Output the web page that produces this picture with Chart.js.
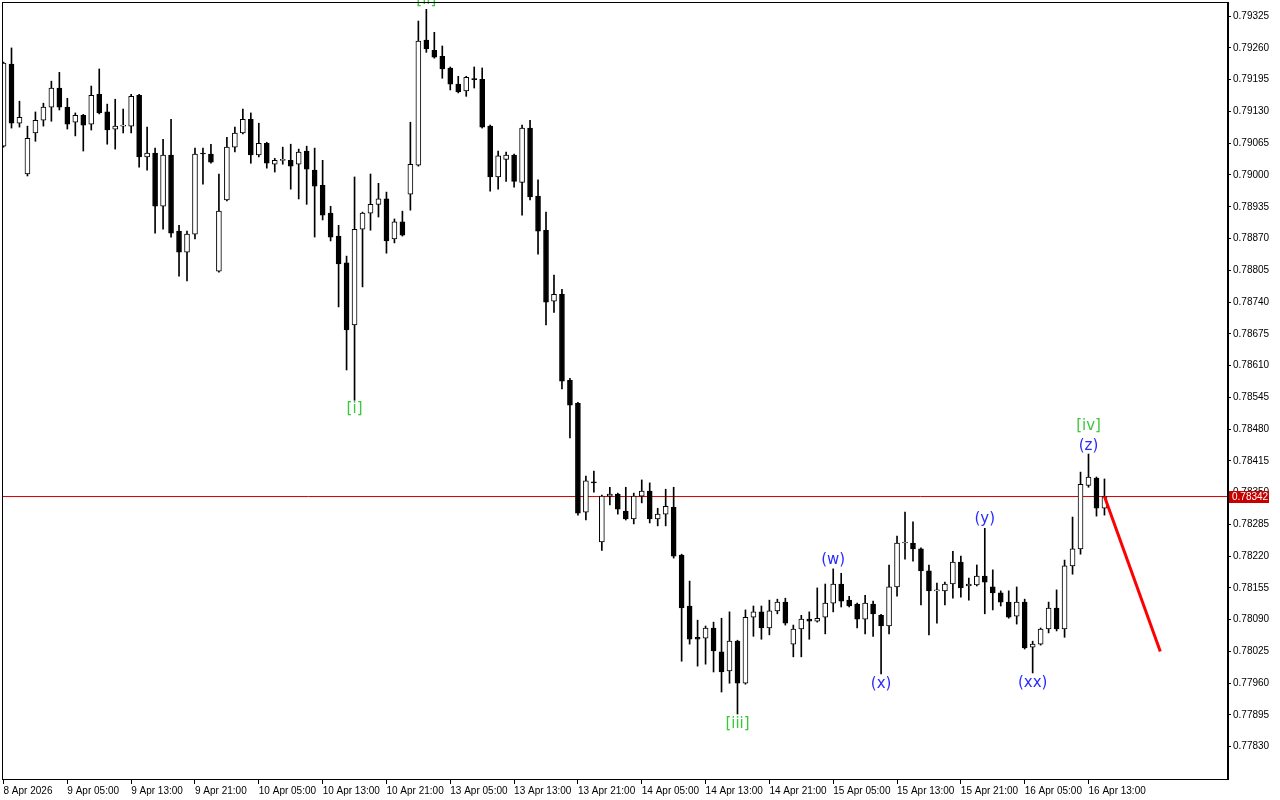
<!DOCTYPE html>
<html>
<head>
<meta charset="utf-8">
<script src="https://cdn.jsdelivr.net/npm/chart.js@4.4.1/dist/chart.umd.min.js"></script>
<style>
  html, body { margin: 0; padding: 0; background: #fff; }
  #wrap { width: 1280px; height: 800px; position: relative; }
</style>
</head>
<body>
<div id="wrap"><canvas id="c"></canvas></div>
<script>
// hourly candles, index 0 = 8 Apr 2026 21:00
var open = [0.79059,0.79227,0.79106,0.79002,0.79086,0.79112,0.79139,0.79178,0.79139,0.79108,
  0.79122,0.79104,0.79165,0.79129,0.79094,0.79100,0.79100,0.79163,0.79037,0.79045,
  0.78936,0.79041,0.78885,0.78842,0.78879,0.79045,0.79043,0.78803,0.78949,0.79057,
  0.79086,0.79114,0.79041,0.79065,0.79022,0.79030,0.79030,0.79022,0.79049,0.79010,
  0.78979,0.78922,0.78875,0.78820,0.78693,0.78889,0.78922,0.78940,0.78951,0.78869,
  0.78904,0.78961,0.79020,0.79276,0.79255,0.79243,0.79219,0.79186,0.79172,0.79196,
  0.79196,0.79100,0.78996,0.79032,0.79041,0.78985,0.79096,0.78957,0.78887,0.78742,
  0.78756,0.78580,0.78533,0.78310,0.78371,0.78249,0.78343,0.78347,0.78312,0.78296,
  0.78343,0.78353,0.78296,0.78306,0.78320,0.78222,0.78118,0.78054,0.78052,0.78073,
  0.78024,0.77985,0.78046,0.77960,0.78095,0.78106,0.78073,0.78108,0.78126,0.78040,
  0.78071,0.78091,0.78087,0.78095,0.78124,0.78163,0.78130,0.78122,0.78091,0.78122,
  0.78099,0.78077,0.78157,0.78247,0.78247,0.78235,0.78190,0.78149,0.78149,0.78163,
  0.78208,0.78159,0.78161,0.78179,0.78157,0.78145,0.78126,0.78097,0.78126,0.78034,
  0.78040,0.78071,0.78114,0.78071,0.78200,0.78235,0.78365,0.78380,0.78318];
var high = [0.79231,0.79260,0.79151,0.79100,0.79129,0.79147,0.79192,0.79210,0.79157,0.79127,
  0.79124,0.79182,0.79217,0.79145,0.79155,0.79135,0.79165,0.79165,0.79098,0.79055,
  0.79073,0.79114,0.78897,0.78885,0.79055,0.79055,0.79063,0.79002,0.79077,0.79098,
  0.79135,0.79127,0.79106,0.79067,0.79034,0.79057,0.79063,0.79053,0.79059,0.79055,
  0.79030,0.78936,0.78897,0.78834,0.78996,0.78924,0.79002,0.78983,0.78965,0.78910,
  0.78926,0.79108,0.79315,0.79339,0.79292,0.79264,0.79221,0.79202,0.79202,0.79221,
  0.79219,0.79102,0.79049,0.79047,0.79043,0.79102,0.79112,0.78990,0.78924,0.78795,
  0.78766,0.78584,0.78535,0.78384,0.78394,0.78345,0.78361,0.78349,0.78361,0.78349,
  0.78376,0.78370,0.78318,0.78357,0.78361,0.78224,0.78169,0.78089,0.78077,0.78085,
  0.78093,0.78106,0.78048,0.78110,0.78118,0.78118,0.78130,0.78132,0.78134,0.78079,
  0.78099,0.78106,0.78155,0.78163,0.78194,0.78185,0.78138,0.78124,0.78140,0.78128,
  0.78101,0.78202,0.78261,0.78310,0.78290,0.78237,0.78202,0.78165,0.78167,0.78230,
  0.78220,0.78175,0.78202,0.78277,0.78192,0.78149,0.78149,0.78157,0.78132,0.78046,
  0.78073,0.78126,0.78151,0.78212,0.78300,0.78392,0.78429,0.78382,0.78378];
var low = [0.79057,0.79096,0.79098,0.78998,0.79069,0.79100,0.79110,0.79133,0.79094,0.79080,
  0.79049,0.79092,0.79125,0.79063,0.79053,0.79086,0.79086,0.79016,0.79010,0.78881,
  0.78889,0.78873,0.78793,0.78783,0.78869,0.78981,0.79024,0.78801,0.78947,0.79047,
  0.79084,0.79024,0.79037,0.79014,0.79006,0.79022,0.78971,0.78951,0.78940,0.78873,
  0.78908,0.78865,0.78730,0.78601,0.78539,0.78771,0.78887,0.78914,0.78840,0.78861,
  0.78875,0.78928,0.79018,0.79251,0.79239,0.79198,0.79174,0.79168,0.79161,0.79178,
  0.79096,0.78967,0.78971,0.78987,0.78975,0.78918,0.78949,0.78838,0.78693,0.78719,
  0.78562,0.78462,0.78304,0.78294,0.78351,0.78232,0.78325,0.78306,0.78294,0.78286,
  0.78329,0.78288,0.78282,0.78282,0.78216,0.78005,0.78040,0.77995,0.77999,0.77983,
  0.77942,0.77960,0.77897,0.77958,0.78056,0.78050,0.78059,0.78102,0.78079,0.78014,
  0.78014,0.78050,0.78085,0.78061,0.78106,0.78116,0.78116,0.78073,0.78061,0.78056,
  0.77979,0.78061,0.78138,0.78214,0.78210,0.78120,0.78059,0.78083,0.78120,0.78134,
  0.78136,0.78130,0.78159,0.78102,0.78110,0.78118,0.78093,0.78081,0.78030,0.77981,
  0.78038,0.78063,0.78067,0.78054,0.78183,0.78224,0.78361,0.78302,0.78304];
var close = [0.79229,0.79106,0.79118,0.79075,0.79112,0.79139,0.79178,0.79139,0.79104,0.79122,
  0.79102,0.79163,0.79127,0.79092,0.79100,0.79101,0.79161,0.79037,0.79045,0.78936,
  0.79041,0.78881,0.78842,0.78879,0.79043,0.79043,0.79026,0.78926,0.79057,0.79086,
  0.79114,0.79041,0.79065,0.79024,0.79030,0.79031,0.79018,0.79047,0.79012,0.78977,
  0.78918,0.78873,0.78818,0.78683,0.78889,0.78922,0.78940,0.78951,0.78865,0.78904,
  0.78877,0.79022,0.79274,0.79258,0.79241,0.79217,0.79186,0.79170,0.79200,0.79195,
  0.79098,0.78996,0.79039,0.79041,0.78987,0.79096,0.78955,0.78885,0.78740,0.78756,
  0.78578,0.78529,0.78308,0.78374,0.78370,0.78343,0.78347,0.78316,0.78296,0.78343,
  0.78353,0.78296,0.78306,0.78322,0.78220,0.78114,0.78050,0.78050,0.78073,0.78026,
  0.77983,0.78046,0.77960,0.78095,0.78106,0.78073,0.78108,0.78126,0.78083,0.78071,
  0.78091,0.78087,0.78093,0.78124,0.78163,0.78128,0.78118,0.78091,0.78124,0.78102,
  0.78077,0.78157,0.78247,0.78248,0.78235,0.78190,0.78149,0.78150,0.78163,0.78208,
  0.78155,0.78163,0.78179,0.78167,0.78145,0.78126,0.78095,0.78126,0.78032,0.78040,
  0.78071,0.78114,0.78071,0.78200,0.78235,0.78367,0.78382,0.78318,0.78342];

var xTickIdx = [0,8,16,24,32,40,48,56,64,72,80,88,96,104,112,120,128,136];
var xTickLabels = ["8 Apr 2026","9 Apr 05:00","9 Apr 13:00","9 Apr 21:00","10 Apr 05:00","10 Apr 13:00",
  "10 Apr 21:00","13 Apr 05:00","13 Apr 13:00","13 Apr 21:00","14 Apr 05:00","14 Apr 13:00",
  "14 Apr 21:00","15 Apr 05:00","15 Apr 13:00","15 Apr 21:00","16 Apr 05:00","16 Apr 13:00"];
var yTicks = [0.79325,0.79260,0.79195,0.79130,0.79065,0.79000,0.78935,0.78870,0.78805,0.78740,
  0.78675,0.78610,0.78545,0.78480,0.78415,0.78350,0.78285,0.78220,0.78155,0.78090,
  0.78025,0.77960,0.77895,0.77830];

var lastPrice = 0.78342;
// projected move
var projIdx = [138, 145];
var projPrice = [0.78342, 0.78025];

// wave labels
var waveText = ["[i]", "[ii]", "[iii]", "(w)", "(x)", "(y)", "(xx)", "(z)", "[iv]"];
var waveIdx = [44, 53, 92, 104, 110, 123, 129, 136, 136];
var wavePrice = [0.78521, 0.79358, 0.77877, 0.78212, 0.77959, 0.78295, 0.77961, 0.78446, 0.78487];
var waveGreen = [true, true, true, false, false, false, false, false, true];

var xMin = -0.19, xMax = 153.36;

var bodies = [], wicks = [], bodyColors = [];
for (var i = 0; i < open.length; i++) {
	bodies.push({x: i, y: [open[i], close[i]]});
	wicks.push({x: i, y: [low[i], high[i]]});
	bodyColors.push(close[i] >= open[i] ? "#ffffff" : "#000000");
}

var labelsPlugin = {
	id: "waves",
	afterDatasetsDraw: function(chart) {
		var ctx = chart.ctx, xs = chart.scales.x, ys = chart.scales.y;
		ctx.save();
		ctx.font = "15px 'DejaVu Sans'";
		ctx.textAlign = "center";
		ctx.textBaseline = "middle";
		for (var k = 0; k < waveText.length; k++) {
			ctx.fillStyle = waveGreen[k] ? "#3cc83c" : "#2a2aff";
			ctx.fillText(waveText[k], xs.getPixelForValue(waveIdx[k]), ys.getPixelForValue(wavePrice[k]));
		}
		ctx.restore();
	}
};

var framePlugin = {
	id: "frame",
	afterDraw: function(chart) {
		var ctx = chart.ctx, ca = chart.chartArea, ys = chart.scales.y;
		ctx.save();
		ctx.strokeStyle = "#000";
		ctx.lineWidth = 1;
		ctx.strokeRect(ca.left + 0.5, ca.top + 0.5, ca.right - ca.left, ca.bottom - ca.top);
		ctx.fillStyle = "#000";
		ctx.fillRect(ca.right, ca.top, 2, ca.bottom - ca.top + 1);
		// price box
		var py = Math.round(ys.getPixelForValue(lastPrice));
		ctx.fillStyle = "#c80000";
		ctx.fillRect(ca.right + 2, py - 6, 40, 12);
		ctx.fillStyle = "#ffffff";
		ctx.font = "10px 'Liberation Sans'";
		ctx.textBaseline = "middle";
		ctx.fillText(lastPrice.toFixed(5), ca.right + 5, py);
		ctx.restore();
	}
};

new Chart(document.getElementById("c"), {
	type: "bar",
	data: {
		datasets: [{
			type: "bar",
			data: bodies,
			backgroundColor: bodyColors,
			borderColor: "#000000",
			borderWidth: 1,
			borderSkipped: false,
			barThickness: 5,
			minBarLength: 1,
			grouped: false,
			order: 0
		}, {
			type: "bar",
			data: wicks,
			backgroundColor: "#000000",
			borderWidth: 0,
			barThickness: 1,
			grouped: false,
			order: 1
		}, {
			type: "line",
			data: [{x: xMin, y: lastPrice}, {x: xMax, y: lastPrice}],
			borderColor: "#d40000",
			borderWidth: 1,
			pointRadius: 0,
			order: 3
		}, {
			type: "line",
			data: [{x: projIdx[0], y: projPrice[0]}, {x: projIdx[1], y: projPrice[1]}],
			borderColor: "#ff0000",
			borderWidth: 3,
			pointRadius: 0,
			order: -1
		}]
	},
	options: {
		responsive: true,
		maintainAspectRatio: false,
		animation: false,
		devicePixelRatio: 1,
		layout: { padding: { left: 2, top: 2, right: 0, bottom: 0 } },
		plugins: { legend: { display: false }, tooltip: { enabled: false } },
		scales: {
			x: {
				type: "linear",
				position: "bottom",
				min: xMin,
				max: xMax,
				offset: false,
				afterBuildTicks: function(s) {
					s.ticks = xTickIdx.map(function(v) { return {value: v}; });
				},
				afterFit: function(s) {
					s.height = 21;
					s.paddingLeft = 0;
					s.paddingRight = 0;
				},
				ticks: {
					autoSkip: false,
					maxRotation: 0,
					align: "start",
					padding: 1,
					color: "#000",
					font: { family: "'Liberation Sans'", size: 10 },
					callback: function(v, idx) { return xTickLabels[idx]; }
				},
				grid: { drawOnChartArea: false, offset: false, tickLength: 5, color: "#000" },
				border: { display: false }
			},
			y: {
				type: "linear",
				position: "right",
				min: 0.77764,
				max: 0.79354,
				afterBuildTicks: function(s) {
					s.ticks = yTicks.map(function(v) { return {value: v}; });
				},
				afterFit: function(s) {
					s.width = 53;
					s.paddingTop = 0;
					s.paddingBottom = 0;
				},
				ticks: {
					padding: 2,
					color: "#000",
					font: { family: "'Liberation Sans'", size: 10 },
					callback: function(v) { return v.toFixed(5); }
				},
				grid: { drawOnChartArea: false, tickLength: 4, color: "#000" },
				border: { display: false }
			}
		}
	},
	plugins: [labelsPlugin, framePlugin]
});
</script>
</body>
</html>
